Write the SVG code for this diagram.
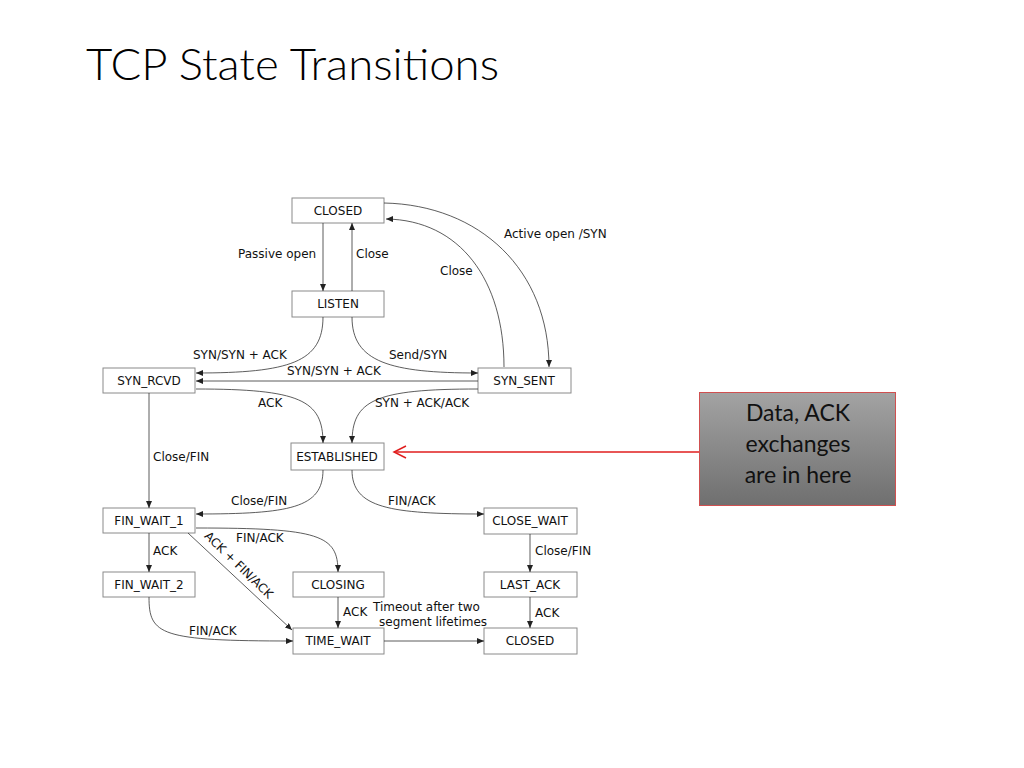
<svg xmlns="http://www.w3.org/2000/svg" width="1024" height="768" viewBox="0 0 1024 768">
<defs>
<marker id="ah" markerUnits="userSpaceOnUse" markerWidth="8" markerHeight="6" refX="7" refY="3" orient="auto">
<path d="M0,0 L7,3 L0,6 Z" fill="#222"/>
</marker>
<linearGradient id="gbox" x1="0" y1="0" x2="0" y2="1">
<stop offset="0" stop-color="#a3a3a3"/>
<stop offset="1" stop-color="#6f6f6f"/>
</linearGradient>
<style>
.st rect{fill:#fff;stroke:#8a8a8a;stroke-width:1}
.st text{font-family:"DejaVu Sans",sans-serif;font-size:12px;fill:#111;text-anchor:middle}
.lbl{font-family:"DejaVu Sans",sans-serif;font-size:12px;fill:#111}
.cn path{fill:none;stroke:#333;stroke-width:0.8;marker-end:url(#ah)}
</style>
</defs>
<rect width="1024" height="768" fill="#fff"/>
<text x="86" y="80" font-family="Lato, 'Open Sans', sans-serif" font-weight="300" font-size="44" textLength="413" lengthAdjust="spacingAndGlyphs" fill="#000">TCP State Transitions</text>

<g id="closed_top" class="st"><rect x="292" y="198" width="92" height="25"/><text x="338" y="215">CLOSED</text></g>
<g id="listen" class="st"><rect x="292" y="291" width="92" height="26"/><text x="338" y="308">LISTEN</text></g>
<g id="syn_rcvd" class="st"><rect x="103" y="368" width="92" height="25"/><text x="149" y="385">SYN_RCVD</text></g>
<g id="syn_sent" class="st"><rect x="478" y="368" width="93" height="25"/><text x="524" y="385">SYN_SENT</text></g>
<g id="established" class="st"><rect x="291" y="443" width="93" height="27"/><text x="337" y="461">ESTABLISHED</text></g>
<g id="fin_wait_1" class="st"><rect x="103" y="508" width="92" height="25"/><text x="149" y="525">FIN_WAIT_1</text></g>
<g id="close_wait" class="st"><rect x="484" y="508" width="93" height="26"/><text x="530" y="525">CLOSE_WAIT</text></g>
<g id="fin_wait_2" class="st"><rect x="103" y="572" width="92" height="25"/><text x="149" y="589">FIN_WAIT_2</text></g>
<g id="closing" class="st"><rect x="293" y="572" width="91" height="25"/><text x="338" y="589">CLOSING</text></g>
<g id="last_ack" class="st"><rect x="484" y="572" width="93" height="25"/><text x="530" y="589">LAST_ACK</text></g>
<g id="time_wait" class="st"><rect x="293" y="628" width="91" height="26"/><text x="338" y="645">TIME_WAIT</text></g>
<g id="closed_bottom" class="st"><rect x="484" y="628" width="93" height="26"/><text x="530" y="645">CLOSED</text></g>

<g id="connectors" class="cn">
<path d="M323,223 L323,291"/>
<path d="M352,291 L352,223"/>
<path d="M384,203 C480,205 549,270 549,367"/>
<path d="M504,367 C504,280 460,220 386,219"/>
<path d="M323,317 C323,362 290,373 196,373"/>
<path d="M352,317 C352,362 390,373 478,373"/>
<path d="M478,381 L196,381"/>
<path d="M196,389 C300,389 323,400 323,443"/>
<path d="M478,389 C375,389 352,400 352,443"/>
<path d="M149,393 L149,508"/>
<path d="M323,470 C323,508 290,514 196,514"/>
<path d="M352,470 C352,508 390,514 484,514"/>
<path d="M196,528 C320,528 338,535 338,572"/>
<path d="M149,533 L149,572"/>
<path d="M188,533 L292,630"/>
<path d="M149,597 C149,635 160,641 293,641"/>
<path d="M338,597 L338,628"/>
<path d="M384,641 L484,641"/>
<path d="M530,534 L530,572"/>
<path d="M530,597 L530,628"/>
</g>

<g id="labels">
<text class="lbl" x="238" y="258">Passive open</text>
<text class="lbl" x="356" y="258">Close</text>
<text class="lbl" x="504" y="238">Active open /SYN</text>
<text class="lbl" x="440" y="275">Close</text>
<text class="lbl" x="193" y="359">SYN/SYN + ACK</text>
<text class="lbl" x="389" y="359">Send/SYN</text>
<text class="lbl" x="287" y="375">SYN/SYN + ACK</text>
<text class="lbl" x="258" y="407">ACK</text>
<text class="lbl" x="375" y="407">SYN + ACK/ACK</text>
<text class="lbl" x="153" y="461">Close/FIN</text>
<text class="lbl" x="231" y="505">Close/FIN</text>
<text class="lbl" x="388" y="505">FIN/ACK</text>
<text class="lbl" x="236" y="542">FIN/ACK</text>
<text class="lbl" x="153" y="555">ACK</text>
<text class="lbl" x="535" y="555">Close/FIN</text>
<text class="lbl" x="343" y="616">ACK</text>
<text class="lbl" x="373" y="611">Timeout after two</text>
<text class="lbl" x="379" y="626">segment lifetimes</text>
<text class="lbl" x="535" y="617">ACK</text>
<text class="lbl" x="189" y="635">FIN/ACK</text>
<text class="lbl" transform="translate(236,568) rotate(44)" x="0" y="0" text-anchor="middle">ACK + FIN/ACK</text>
</g>

<g id="note">
<rect x="699.5" y="392.5" width="196" height="113" fill="url(#gbox)" stroke="#d05050" stroke-width="1"/>
<g font-family="Lato, 'Open Sans', sans-serif" font-size="23" fill="#111" text-anchor="middle">
<text x="798" y="421">Data, ACK</text>
<text x="798" y="452">exchanges</text>
<text x="798" y="483">are in here</text>
</g>
</g>
<g id="note_arrow" fill="none" stroke="#e01e1e" stroke-width="1.5">
<path d="M699,452 L394,452"/>
<path d="M406,446 L394,452 L406,458"/>
</g>
</svg>
